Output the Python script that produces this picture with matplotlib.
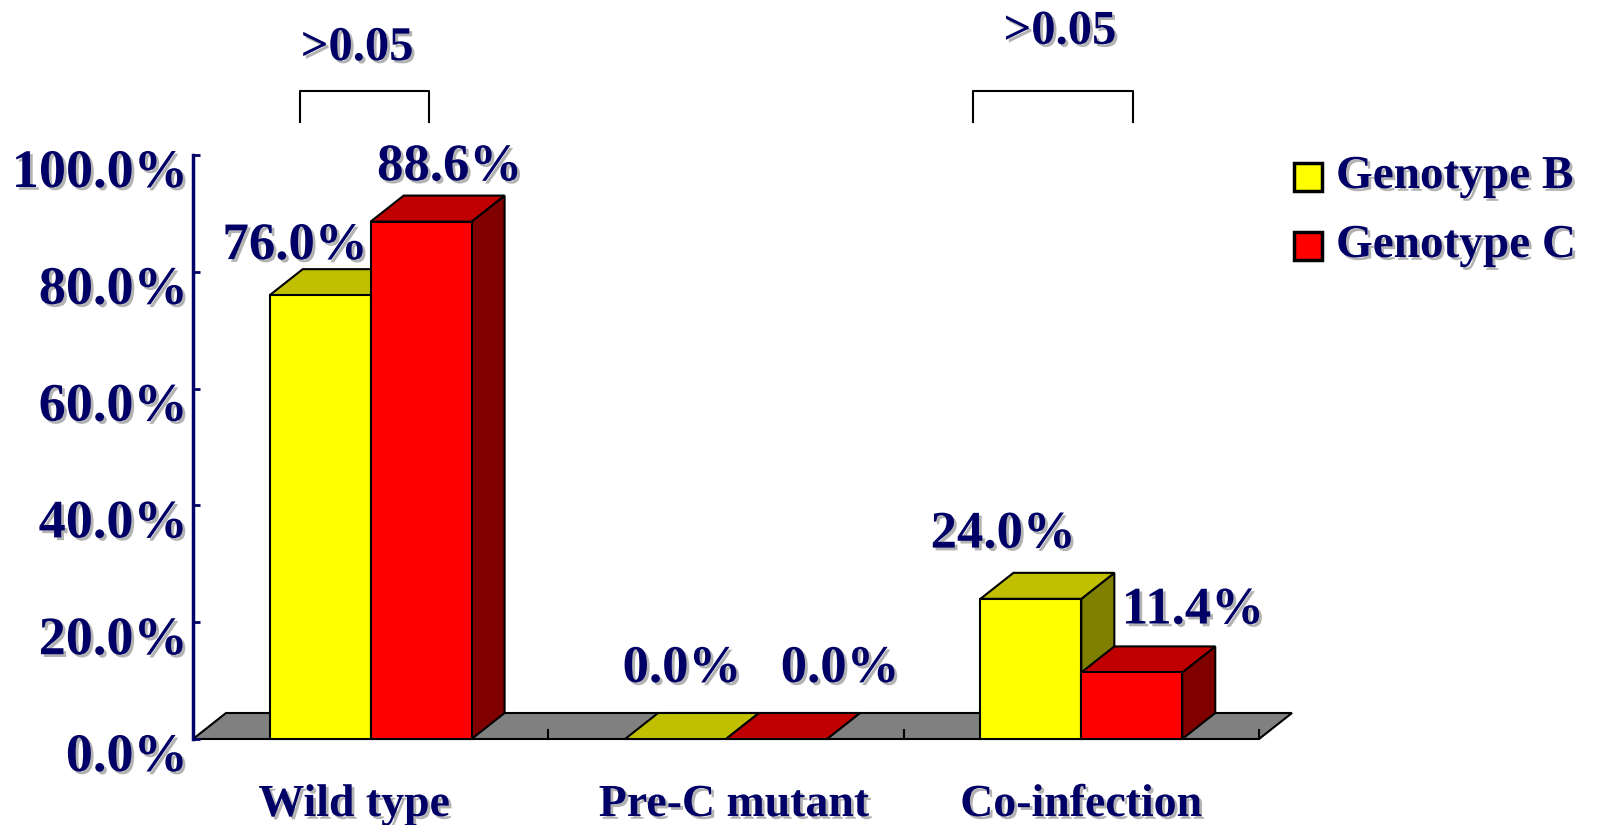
import matplotlib.pyplot as plt
import matplotlib.patheffects as pe
import matplotlib.transforms as mtransforms
from matplotlib.patches import Polygon, Rectangle
import numpy as np

# data
categories = ['Wild type', 'Pre-C mutant', 'Co-infection']
series = ['Genotype B', 'Genotype C']
genotype_b = [0.760, 0.000, 0.240]
genotype_c = [0.886, 0.000, 0.114]
yticks = [0.0, 0.2, 0.4, 0.6, 0.8, 1.0]
p_values = ['>0.05', '>0.05']

# colours: front, top, side
front_cols = ['#FFFF00', '#FF0000']
top_cols = ['#C0C000', '#C00000']
side_cols = ['#808000', '#800000']
navy = '#000066'

W, H = 1597, 825
fig = plt.figure(figsize=(W / 100, H / 100), dpi=100)
# axes in pixel terms: x 193..1259, y 155..739
ax = fig.add_axes([193 / W, (H - 739) / H, (1259 - 193) / W, (739 - 155) / H])
ax.set_xlim(-0.5, 2.5)
ax.set_ylim(0, 1.0)

font = dict(family=['Liberation Serif', 'DejaVu Serif'], weight='bold', color=navy)
shadow = [pe.SimplePatchShadow(offset=(2, -2), shadow_rgbFace='#a0a0a0', alpha=0.8), pe.Normal()]

# depth of the fake 3d in data units
ddx = 33 / (1066 / 3)
ddy = 26 / 584
bw = 0.284
x = np.arange(len(categories))

# floor
floor = Polygon([(-0.5, 0), (2.5, 0), (2.5 + ddx, ddy), (-0.5 + ddx, ddy)],
                closed=True, facecolor='#808080', edgecolor='black', lw=1.5,
                clip_on=False, zorder=1)
ax.add_patch(floor)
for b in [0.5, 1.5, 2.5]:
    ax.plot([b, b], [0, 0.016], color='black', lw=1.5, clip_on=False, zorder=1.5)

# bars
values = [genotype_b, genotype_c]
for i in range(len(categories)):
    for s in range(2):
        v = values[s][i]
        left = x[i] - bw + s * bw
        right = left + bw
        side = Polygon([(right, 0), (right + ddx, ddy), (right + ddx, v + ddy), (right, v)],
                       closed=True, facecolor=side_cols[s], edgecolor='black', lw=1.5,
                       clip_on=False, zorder=2 + s)
        top = Polygon([(left, v), (right, v), (right + ddx, v + ddy), (left + ddx, v + ddy)],
                      closed=True, facecolor=top_cols[s], edgecolor='black', lw=1.5,
                      clip_on=False, zorder=2 + s)
        ax.add_patch(side)
        ax.add_patch(top)
        if v > 0:
            ax.bar(left, v, width=bw, align='edge', color=front_cols[s],
                   edgecolor='black', lw=1.5, zorder=2.5 + s, clip_on=False)

# value labels
label_off = [[(-0.071, 0.084), (0.018, 0.120), (-0.078, 0.110)],
             [(0.080, 0.093), (0.179, 0.120), (0.172, 0.106)]]
for s in range(2):
    for i in range(len(categories)):
        v = values[s][i]
        cx = x[i] - bw / 2 + s * bw
        dx, dy = label_off[s][i]
        ax.text(cx + dx, v + dy, f'{v * 100:.1f}%', ha='center', va='center',
                fontsize=38, zorder=5, path_effects=shadow, **font)

# axes styling
for sp in ['top', 'right', 'bottom']:
    ax.spines[sp].set_visible(False)
ax.spines['left'].set_color(navy)
ax.spines['left'].set_linewidth(2.5)
ax.set_xticks([])
ax.set_yticks(yticks)
ax.set_yticklabels([f'{t * 100:.1f}%' for t in yticks])
ax.tick_params(axis='y', direction='in', length=5, width=2, color=navy, pad=4)
offset = mtransforms.ScaledTranslation(0, -13 / 100, fig.dpi_scale_trans)
for lab in ax.get_yticklabels():
    lab.set_fontfamily(['Liberation Serif', 'DejaVu Serif'])
    lab.set_fontweight('bold')
    lab.set_fontsize(39)
    lab.set_color(navy)
    lab.set_path_effects(shadow)
    lab.set_transform(lab.get_transform() + offset)

# category labels
cat_off = [-0.046, 0.023, 0.0]
for i, c in enumerate(categories):
    ax.text(x[i] + cat_off[i], -0.113, c, ha='center', va='center', fontsize=33,
            path_effects=shadow, clip_on=False, **font)

# significance brackets
brackets = [(-0.199, 0.164, 1.110, 1.057, -0.038, 1.183),
            (1.695, 2.146, 1.110, 1.057, 1.940, 1.211)]
for (x0, x1, yt, yb, tx, ty), p in zip(brackets, p_values):
    ax.plot([x0, x0, x1, x1], [yb, yt, yt, yb], color='black', lw=1.5, clip_on=False)
    ax.text(tx, ty, p, ha='center', va='center', fontsize=35,
            path_effects=shadow, clip_on=False, **font)

# legend
for k, name in enumerate(series):
    yc = [177, 246][k]
    fig.patches.append(Rectangle((1294 / W, (H - yc - 14) / H), 28 / W, 28 / H,
                                 transform=fig.transFigure, facecolor=front_cols[k],
                                 edgecolor='black', lw=2.5))
    fig.text(1336 / W, (H - yc) / H, name, ha='left', va='center', fontsize=34,
             path_effects=shadow, **font)

fig.savefig('out.png', dpi=100)
